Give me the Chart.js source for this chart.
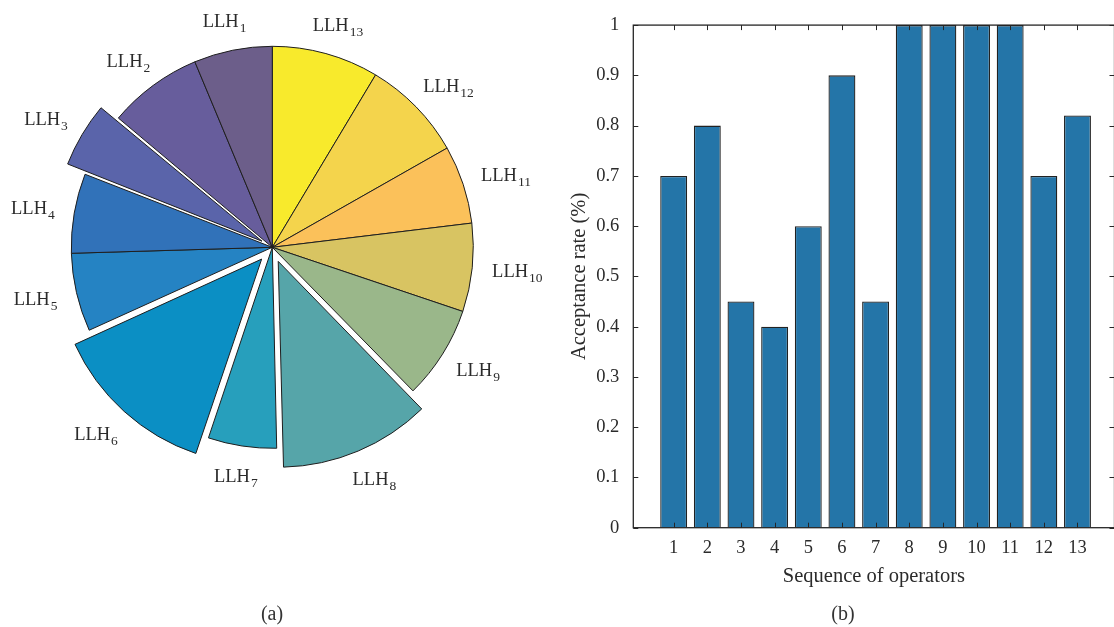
<!DOCTYPE html>
<html>
<head>
<meta charset="utf-8">
<script src="https://cdn.jsdelivr.net/npm/chart.js@4.4.1/dist/chart.umd.min.js"></script>
<style>
  html, body { margin: 0; padding: 0; overflow: hidden; background: #fff; width: 1114px; height: 627px; }
  #pie { position: absolute; left: 0; top: 0; }
  #bar { position: absolute; left: 560px; top: 0; }
  .cap { position: absolute; top: 601px; font: 20px "Liberation Serif", serif; line-height: 24px;
         color: #333; transform: translateX(-50%); white-space: nowrap; }
</style>
</head>
<body>
<canvas id="pie" width="560" height="627"></canvas>
<canvas id="bar" width="560" height="627"></canvas>
<div class="cap" style="left:272px">(a)</div>
<div class="cap" style="left:843px">(b)</div>
<script>
// ---- (a) share of each low-level heuristic (LLH1 ... LLH13), percent ----
const heuristicIds = ['1', '2', '3', '4', '5', '6', '7', '8', '9', '10', '11', '12', '13'];
const sliceShares  = [6.3, 7.6, 5.2, 6.4, 6.3, 13.1, 5.5, 12.0, 7.5, 7.1, 6.3, 8.2, 8.6];
const explodedIds  = ['3', '6', '8'];
const sliceColors  = ['#6c5e8a', '#675d9c', '#5a64aa', '#3172b9', '#2583c3', '#0b8fc4', '#279fbc',
                      '#56a5a9', '#9ab78a', '#d8c462', '#fbc15a', '#f4d44c', '#f8ea2c'];

// ---- (b) acceptance rate per operator ----
const operatorSeq    = [1, 2, 3, 4, 5, 6, 7, 8, 9, 10, 11, 12, 13];
const acceptanceRate = [0.7, 0.8, 0.45, 0.4, 0.6, 0.9, 0.45, 1, 1, 1, 1, 0.7, 0.82];
const rateTicks      = [0, 0.1, 0.2, 0.3, 0.4, 0.5, 0.6, 0.7, 0.8, 0.9, 1];
const rateTickLabels = ['0', '0.1', '0.2', '0.3', '0.4', '0.5', '0.6', '0.7', '0.8', '0.9', '1'];

const SERIF = '"Liberation Serif", "Times New Roman", serif';
const INK = '#2b2b2b';
const PIE_R = 201;
const EXPLODE_PX = PIE_R * 0.1;   // pulled-out distance of the highlighted slices

// slices run counter-clockwise from 12 o'clock; Chart.js draws clockwise, so feed them reversed
const order = heuristicIds.map((_, i) => heuristicIds.length - 1 - i);
const shareTotal = sliceShares.reduce((a, b) => a + b, 0);

// ArcElement shifts a slice by offset/4 * (2 - sin(circumference)); invert that
function arcOffsetFor(i) {
  if (!explodedIds.includes(heuristicIds[i])) return 0;
  const circ = sliceShares[i] / shareTotal * 2 * Math.PI;
  return 4 * EXPLODE_PX / (2 - Math.sin(Math.min(Math.PI, circ)));
}

const pieLabelPlugin = {
  id: 'pieLabels',
  afterDatasetsDraw(chart) {
    const ctx = chart.ctx;
    const meta = chart.getDatasetMeta(0);
    const MAIN = '18.5px ' + SERIF, SUB = '13.5px ' + SERIF, BOX_H = 20;
    ctx.save();
    ctx.fillStyle = INK;
    ctx.textBaseline = 'alphabetic';
    meta.data.forEach((arc, k) => {
      const id = heuristicIds[order[k]];
      const p = arc.getProps(['x', 'y', 'startAngle', 'endAngle', 'outerRadius'], true);
      const mid = (p.startAngle + p.endAngle) / 2;
      const off = explodedIds.includes(id) ? EXPLODE_PX : 0;
      const c = Math.cos(mid), s = Math.sin(mid);
      ctx.font = MAIN;
      const wMain = ctx.measureText('LLH').width;
      ctx.font = SUB;
      const wSub = ctx.measureText(id).width;
      const w = wMain + 1 + wSub;
      // anchor just outside the rim, then push the text box outward by half its size
      const r = p.outerRadius * 1.1 + off;
      const lx = p.x + c * r + c * w / 2;
      const ly = p.y + s * r + s * BOX_H / 2;
      const x0 = lx - w / 2;
      const base = ly + 6;
      ctx.font = MAIN;
      ctx.fillText('LLH', x0, base);
      ctx.font = SUB;
      ctx.fillText(id, x0 + wMain + 1, base + 5);
    });
    ctx.restore();
  }
};

new Chart(document.getElementById('pie'), {
  type: 'pie',
  data: {
    labels: order.map(i => 'LLH' + heuristicIds[i]),
    datasets: [{
      data: order.map(i => sliceShares[i]),
      backgroundColor: order.map(i => sliceColors[i]),
      offset: order.map(i => arcOffsetFor(i)),
      borderColor: '#1e1e1e',
      borderWidth: 1,
      borderJoinStyle: 'round'
    }]
  },
  options: {
    responsive: false,
    animation: false,
    devicePixelRatio: 1,
    radius: PIE_R,
    layout: { padding: { left: 0, right: 15.4, top: 0, bottom: 132.4 } },
    plugins: { legend: { display: false }, tooltip: { enabled: false } }
  },
  plugins: [pieLabelPlugin]
});

// box around the plot area with inward tick marks on all four sides
const framePlugin = {
  id: 'frame',
  afterDraw(chart) {
    const { ctx, chartArea: a, scales: { x, y } } = chart;
    ctx.save();
    ctx.strokeStyle = '#262626';
    ctx.lineWidth = 1.3;
    ctx.strokeRect(a.left, a.top, a.right - a.left, a.bottom - a.top);
    ctx.lineWidth = 1;
    ctx.beginPath();
    x.ticks.forEach(t => {
      const px = Math.round(x.getPixelForValue(t.value)) + 0.5;
      ctx.moveTo(px, a.bottom); ctx.lineTo(px, a.bottom - 5);
      ctx.moveTo(px, a.top); ctx.lineTo(px, a.top + 5);
    });
    y.ticks.forEach(t => {
      const py = Math.round(y.getPixelForValue(t.value)) + 0.5;
      ctx.moveTo(a.left, py); ctx.lineTo(a.left + 5, py);
      ctx.moveTo(a.right, py); ctx.lineTo(a.right - 5, py);
    });
    ctx.stroke();
    ctx.restore();
  }
};

new Chart(document.getElementById('bar'), {
  type: 'bar',
  data: {
    datasets: [{
      data: operatorSeq.map((v, i) => ({ x: v, y: acceptanceRate[i] })),
      backgroundColor: '#2475a8',
      borderColor: '#222',
      borderWidth: 1.3,
      barPercentage: 0.8,
      categoryPercentage: 1
    }]
  },
  options: {
    responsive: false,
    animation: false,
    devicePixelRatio: 1,
    layout: { padding: { left: 0, right: 5.5, top: 22.3, bottom: 29.3 } },
    plugins: { legend: { display: false }, tooltip: { enabled: false } },
    scales: {
      x: {
        type: 'linear',
        min: -0.2,
        max: 14.1,
        offset: false,
        grid: { display: false, drawTicks: false },
        border: { display: false },
        afterBuildTicks: s => { s.ticks = operatorSeq.map(v => ({ value: v })); },
        afterFit: s => { s.height = 70; },
        ticks: {
          autoSkip: false, maxRotation: 0, padding: 9, color: INK,
          font: { family: SERIF, size: 18.5 },
          callback: v => String(v)
        },
        title: {
          display: true, text: 'Sequence of operators', color: INK,
          font: { family: SERIF, size: 20.5 }, padding: { top: 0, bottom: 8.7 }
        }
      },
      y: {
        min: 0,
        max: 1,
        grid: { display: false, drawTicks: false },
        border: { display: false },
        afterBuildTicks: s => { s.ticks = rateTicks.map(v => ({ value: v })); },
        afterFit: s => { s.width = 73.3; },
        ticks: {
          padding: 14, color: INK,
          font: { family: SERIF, size: 18.5 },
          callback: (v, i) => rateTickLabels[i]
        },
        title: {
          display: true, text: 'Acceptance rate (%)', color: INK,
          font: { family: SERIF, size: 20.5 }, padding: { top: 7.5, bottom: 0 }
        }
      }
    }
  },
  plugins: [framePlugin]
});
</script>
</body>
</html>
